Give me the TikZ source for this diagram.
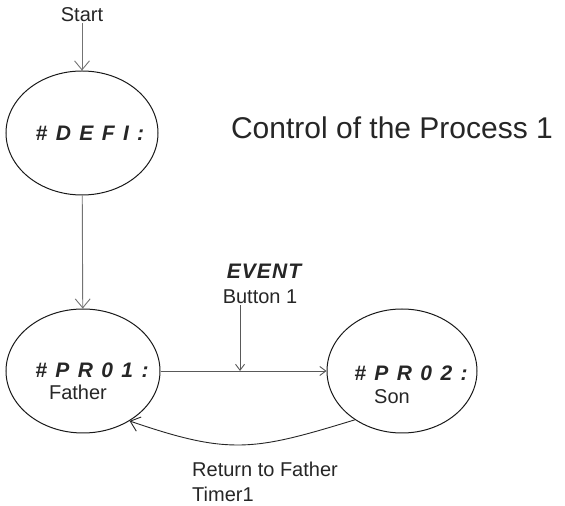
\documentclass[tikz,border=0pt]{standalone}
\usepackage{fontspec}
\setmainfont{Liberation Sans}
\usetikzlibrary{shapes.geometric,arrows.meta}

\tikzset{
  state/.style={draw=black!90, line width=1pt, ellipse, inner sep=0pt},
  flow/.style={draw=black!55, line width=0.9pt, -{Straight Barb[length=9pt,width=15pt]}},
  flowsmall/.style={draw=black!65, line width=0.9pt, -{Straight Barb[length=6pt,width=9pt]}},
  txt/.style={text=black!85, font=\fontsize{20}{25}\selectfont, inner sep=1pt},
  code/.style={text=black!85, inner sep=0pt,
    font=\fontsize{21}{22}\selectfont\bfseries\itshape\addfontfeature{LetterSpace=40}},
  event/.style={text=black!85, inner sep=0pt,
    font=\fontsize{21}{22}\selectfont\bfseries\itshape\addfontfeature{LetterSpace=5}},
  heading/.style={text=black!85, font=\fontsize{30}{32}\selectfont}
}

\begin{document}
\begin{tikzpicture}[x=1pt,y=1pt]
\useasboundingbox (0,0) rectangle (565,506);

\node[state, minimum width=152pt, minimum height=124pt] (defi) at (82,373) {};
\node[state, minimum width=154pt, minimum height=124pt] (pr1) at (83,135) {};
\node[state, minimum width=150pt, minimum height=124pt] (pr2) at (402,135) {};

\node[txt] (start) at (82,491) {Start};
\node[code] (defitxt) at (90,373) {\#DEFI:};
\node[code] (pr1txt) at (92,136) {\#PR01:};
\node[txt] (father) at (78,114) {Father};
\node[code] (pr2txt) at (411,133) {\#PR02:};
\node[txt] (son) at (392,109) {Son};

\node[heading] (title) at (392,378) {Control of the Process 1};

\node[event] (event) at (264,235) {EVENT};
\node[txt] (button) at (260,209) {Button 1};
\coordinate (drop) at (240,135);

\node[txt, align=left, anchor=west] (ret) at (191,24) {Return to Father\\Timer1};

\draw[flow] (start) -- (defi);
\draw[flow] (defi) -- (pr1);
\draw[flowsmall] (pr1) -- (pr2);
\draw[flowsmall] (button.south -| drop) -- (drop);
\draw[flow, draw=black!85] (pr2.226) to[out=197, in=341, looseness=1.2] (pr1.313);

\end{tikzpicture}
\end{document}
